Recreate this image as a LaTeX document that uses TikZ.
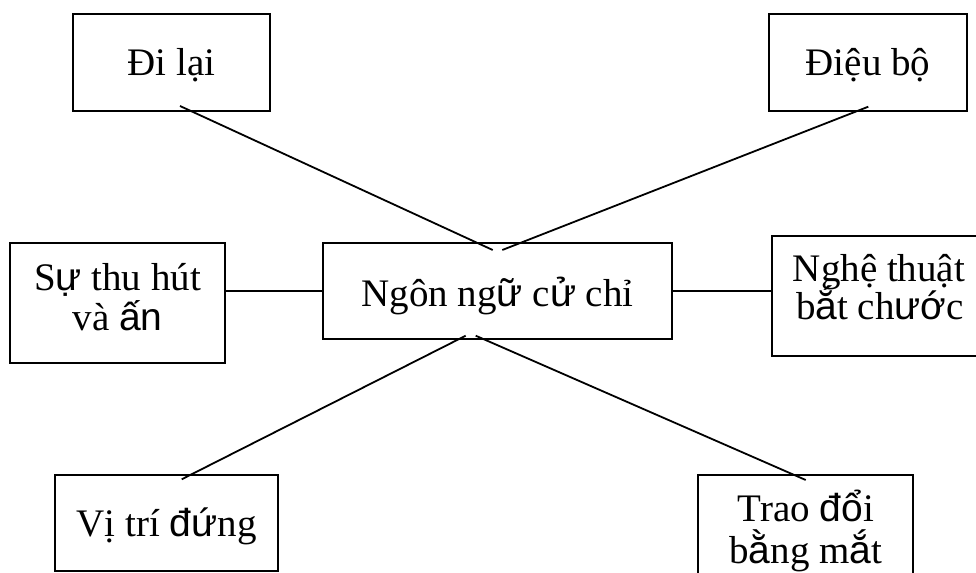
\documentclass[tikz,border=0pt]{standalone}
\usepackage{fontspec}
\setmainfont{Liberation Serif}
\newfontfamily\sansglyph{Liberation Sans}
\newcommand{\sg}[1]{{\sansglyph #1}}
\begin{document}
\begin{tikzpicture}[x=0.75pt,y=-0.75pt,
  box/.style={draw, line width=1.5pt, rectangle, inner sep=0pt},
  txt/.style={inner sep=0pt, anchor=base, font=\fontsize{29.25}{30}\selectfont},
  link/.style={line width=1.35pt}]
\useasboundingbox (0,0) rectangle (976,573);
\clip (0,0) rectangle (976,573);
\fill[white] (0,0) rectangle (976,573);

% boxes
\node[box, minimum width=197.3*0.75pt, minimum height=96.7*0.75pt] (dilai) at (171.35,62.35) {};
\node[box, minimum width=197.4*0.75pt, minimum height=96.7*0.75pt] (dieubo) at (868,62.35) {};
\node[box, minimum width=215*0.75pt, minimum height=120*0.75pt] (suthu) at (117.5,303.3) {};
\node[box, minimum width=348.4*0.75pt, minimum height=95.8*0.75pt] (center) at (497.5,291.4) {};
\node[box, minimum width=214.3*0.75pt, minimum height=120.3*0.75pt] (nghe) at (878.85,295.85) {};
\node[box, minimum width=223.3*0.75pt, minimum height=95.7*0.75pt] (vitri) at (166.65,522.85) {};
\node[box, minimum width=215*0.75pt, minimum height=120*0.75pt] (trao) at (805.8,535) {};

% texts
\node[txt] (t-dilai) at (171.35,76) {Đi lại};
\node[txt] (t-dieubo) at (868,76) {Điệu bộ};
\node[txt] (t-suthu1) at (117.5,290.5) {S\sg{ự} thu hút};
\node[txt] (t-suthu2) at (117.5,330.3) {và \sg{ấn}};
\node[txt] (t-center) at (497.5,306.7) {Ngôn ng\sg{ữ} c\sg{ử} chỉ};
\node[txt] (t-nghe1) at (879,281.7) {Nghệ thuật};
\node[txt] (t-nghe2) at (880,320) {b\sg{ắ}t ch\sg{ướ}c};
\node[txt] (t-vitri) at (166.65,536.7) {Vị trí \sg{đứ}ng};
\node[txt] (t-trao1) at (805.8,521.7) {Trao \sg{đổ}i};
\node[txt] (t-trao2) at (805.8,563.3) {b\sg{ằ}ng m\sg{ắ}t};

% connector end points (lines start inside the boxes)
\coordinate (p-dilai) at (180,106);
\coordinate (p-dieubo) at (868.3,106.7);
\coordinate (p-vitri) at (181.7,479.3);
\coordinate (p-trao) at (805.7,480);
\coordinate (c-tl) at (492.7,250);
\coordinate (c-tr) at (502.3,250);
\coordinate (c-bl) at (465.7,335.7);
\coordinate (c-br) at (475.7,335.7);

\draw[link] (p-dilai) -- (c-tl);
\draw[link] (p-dieubo) -- (c-tr);
\draw[link] (c-bl) -- (p-vitri);
\draw[link] (c-br) -- (p-trao);
\draw[link] (suthu.east |- center.west) -- (center.west);
\draw[link] (center.east) -- (center.east -| nghe.west);
\end{tikzpicture}
\end{document}
